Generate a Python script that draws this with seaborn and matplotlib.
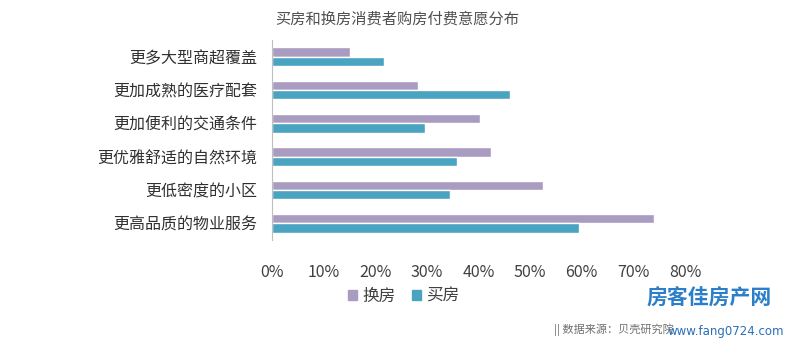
import matplotlib
matplotlib.use("Agg")
import matplotlib.pyplot as plt
import seaborn as sns
import pandas as pd
from matplotlib.ticker import PercentFormatter

# 类别（从上到下）
categories = ["更多大型商超覆盖", "更加成熟的医疗配套", "更加便利的交通条件",
              "更优雅舒适的自然环境", "更低密度的小区", "更高品质的物业服务"]
series = ["换房", "买房"]
huan_fang = [15.1, 28.4, 40.3, 42.4, 52.5, 73.9]
mai_fang = [21.8, 46.1, 29.7, 35.9, 34.5, 59.5]
x_ticks = [0, 10, 20, 30, 40, 50, 60, 70, 80]

colors = ["#A99CC0", "#4AA3C0"]

df = pd.DataFrame({
    "category": categories * 2,
    "series": [series[0]] * len(categories) + [series[1]] * len(categories),
    "value": huan_fang + mai_fang,
})

sns.set_theme(style="white")
plt.rcParams["font.family"] = ["Noto Sans CJK SC", "DejaVu Sans"]

fig = plt.figure(figsize=(7.92, 3.49), dpi=100)
ax = fig.add_axes([0.343, 0.312, 0.522, 0.573])

sns.barplot(data=df, y="category", x="value", hue="series", order=categories,
            hue_order=series, palette=colors, width=0.56, orient="h",
            saturation=1, ax=ax, legend=False)

ax.set_xlim(0, 80)
ax.set_ylim(5.5, -0.5)
ax.set_xticks(x_ticks)
ax.xaxis.set_major_formatter(PercentFormatter(decimals=0))
ax.set_xlabel("")
ax.set_ylabel("")
ax.tick_params(axis="x", length=0, pad=17, labelsize=11.5, labelcolor="#404040")
ax.tick_params(axis="y", length=0, pad=10, labelsize=11.5, labelcolor="#303030")
for s in ["top", "right", "bottom"]:
    ax.spines[s].set_visible(False)
ax.spines["left"].set_color("#BFBFBF")
ax.spines["left"].set_linewidth(0.8)

# 标题
fig.text(0.502, 0.945, "买房和换房消费者购房付费意愿分布", ha="center", va="center",
         fontsize=11, color="#505050")

# 图例
handles = [plt.Rectangle((0, 0), 1, 1, color=c) for c in colors]
fig.legend(handles, series, loc="center", bbox_to_anchor=(0.51, 0.152), ncol=2,
           frameon=False, fontsize=12, handlelength=0.55, handleheight=0.55,
           handletextpad=0.3, columnspacing=1.0, labelcolor="#404040")

# 来源与水印
fig.text(0.70, 0.055, "|| 数据来源：贝壳研究院", ha="left", va="center",
         fontsize=8, color="#707070")
fig.text(0.895, 0.145, "房客佳房产网", ha="center", va="center",
         fontsize=15, color="#2A7FC8", weight="bold")
fig.text(0.99, 0.05, "www.fang0724.com", ha="right", va="center",
         fontsize=8.5, color="#2A6FB8", family=["DejaVu Sans"])

fig.savefig("out.png", dpi=100)
